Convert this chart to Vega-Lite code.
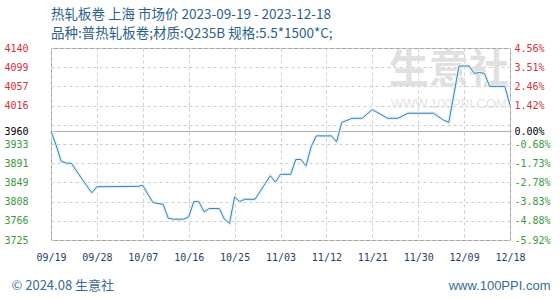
{
  "$schema": "https://vega.github.io/schema/vega-lite/v6.json",
  "width": 459,
  "height": 192,
  "autosize": {"type": "none"},
  "padding": {"left": 51, "top": 48, "right": 50, "bottom": 60},
  "background": "white",
  "title": {
    "text": "热轧板卷 上海 市场价 2023-09-19 - 2023-12-18",
    "subtitle": "品种:普热轧板卷;材质:Q235B 规格:5.5*1500*C;",
    "anchor": "start",
    "frame": "group",
    "font": "Noto Sans CJK SC",
    "fontSize": 13.5,
    "fontWeight": "normal",
    "color": "#2b5f8e",
    "subtitleFont": "Noto Sans CJK SC",
    "subtitleFontSize": 13.5,
    "subtitleColor": "#2b5f8e",
    "subtitlePadding": 5,
    "offset": 3
  },
  "data": {
    "values": [
      {"date": "2023/09/19", "price": 3960},
      {"date": "2023/09/20", "price": 3930},
      {"date": "2023/09/21", "price": 3895},
      {"date": "2023/09/22", "price": 3891},
      {"date": "2023/09/23", "price": 3891},
      {"date": "2023/09/25", "price": 3858},
      {"date": "2023/09/27", "price": 3827},
      {"date": "2023/09/28", "price": 3840},
      {"date": "2023/10/06", "price": 3841},
      {"date": "2023/10/07", "price": 3843},
      {"date": "2023/10/08", "price": 3824},
      {"date": "2023/10/09", "price": 3806},
      {"date": "2023/10/11", "price": 3802},
      {"date": "2023/10/12", "price": 3772},
      {"date": "2023/10/13", "price": 3770},
      {"date": "2023/10/15", "price": 3770},
      {"date": "2023/10/16", "price": 3775},
      {"date": "2023/10/17", "price": 3808},
      {"date": "2023/10/18", "price": 3808},
      {"date": "2023/10/19", "price": 3786},
      {"date": "2023/10/20", "price": 3793},
      {"date": "2023/10/22", "price": 3793},
      {"date": "2023/10/23", "price": 3770},
      {"date": "2023/10/24", "price": 3761},
      {"date": "2023/10/25", "price": 3818},
      {"date": "2023/10/26", "price": 3808},
      {"date": "2023/10/27", "price": 3813},
      {"date": "2023/10/29", "price": 3813},
      {"date": "2023/10/31", "price": 3847},
      {"date": "2023/11/01", "price": 3864},
      {"date": "2023/11/02", "price": 3850},
      {"date": "2023/11/03", "price": 3867},
      {"date": "2023/11/05", "price": 3867},
      {"date": "2023/11/06", "price": 3899},
      {"date": "2023/11/07", "price": 3899},
      {"date": "2023/11/08", "price": 3885},
      {"date": "2023/11/09", "price": 3926},
      {"date": "2023/11/10", "price": 3950},
      {"date": "2023/11/13", "price": 3950},
      {"date": "2023/11/14", "price": 3937},
      {"date": "2023/11/15", "price": 3979},
      {"date": "2023/11/17", "price": 3988},
      {"date": "2023/11/19", "price": 3988},
      {"date": "2023/11/21", "price": 4007},
      {"date": "2023/11/24", "price": 3988},
      {"date": "2023/11/26", "price": 3988},
      {"date": "2023/11/28", "price": 3999},
      {"date": "2023/12/03", "price": 3999},
      {"date": "2023/12/05", "price": 3984},
      {"date": "2023/12/06", "price": 3979},
      {"date": "2023/12/08", "price": 4101},
      {"date": "2023/12/10", "price": 4101},
      {"date": "2023/12/11", "price": 4085},
      {"date": "2023/12/12", "price": 4087},
      {"date": "2023/12/13", "price": 4085},
      {"date": "2023/12/14", "price": 4057},
      {"date": "2023/12/17", "price": 4057},
      {"date": "2023/12/18", "price": 4016}
    ]
  },
  "encoding": {
    "x": {
      "field": "date",
      "type": "temporal",
      "scale": {"domain": [{"year": 2023, "month": 9, "date": 19}, {"year": 2023, "month": 12, "date": 18}]},
      "axis": {
        "values": [
          {"year": 2023, "month": 9, "date": 19},
          {"year": 2023, "month": 9, "date": 28},
          {"year": 2023, "month": 10, "date": 7},
          {"year": 2023, "month": 10, "date": 16},
          {"year": 2023, "month": 10, "date": 25},
          {"year": 2023, "month": 11, "date": 3},
          {"year": 2023, "month": 11, "date": 12},
          {"year": 2023, "month": 11, "date": 21},
          {"year": 2023, "month": 11, "date": 30},
          {"year": 2023, "month": 12, "date": 9},
          {"year": 2023, "month": 12, "date": 18}
        ],
        "format": "%m/%d",
        "labelFont": "DejaVu Sans Mono",
        "labelFontSize": 10,
        "labelColor": "#1f4068",
        "labelPadding": 12,
        "labelFlush": false,
        "labelOverlap": false,
        "ticks": false,
        "tickSize": 0,
        "domain": false,
        "grid": true,
        "gridColor": "#cccccc",
        "gridDash": [3, 3],
        "title": "© 2024.08 生意社",
        "titleFont": "Noto Sans CJK SC",
        "titleFontSize": 13,
        "titleFontWeight": "normal",
        "titleColor": "#3a6a94",
        "titleAnchor": "start",
        "titleAlign": "left",
        "titleBaseline": "middle",
        "titleX": -40,
        "titleY": 45
      }
    }
  },
  "layer": [
    {
      "data": {"values": [{"label": "生意社", "day": "2023/12/06", "level": 4090}]},
      "mark": {"type": "text", "font": "Noto Sans CJK SC", "fontSize": 40, "fontWeight": "bold", "color": "#e0e0e0", "align": "center", "baseline": "middle"},
      "encoding": {
        "x": {"field": "day", "type": "temporal"},
        "y": {"field": "level", "type": "quantitative", "axis": null},
        "text": {"field": "label"}
      }
    },
    {
      "data": {"values": [{"label": "WWW.100PPI.COM", "day": "2023/12/06", "level": 4019}]},
      "mark": {"type": "text", "font": "Liberation Sans", "fontSize": 13, "color": "#e4e4e4", "align": "center", "baseline": "middle"},
      "encoding": {
        "x": {"field": "day", "type": "temporal"},
        "y": {"field": "level", "type": "quantitative", "axis": null},
        "text": {"field": "label"}
      }
    },
    {
      "mark": {"type": "line", "color": "#e2f3fc", "strokeWidth": 3.5, "interpolate": "linear"},
      "encoding": {
        "y": {
          "field": "price",
          "type": "quantitative",
          "scale": {"domain": [3725, 4140], "zero": false, "nice": false},
          "axis": {
            "orient": "right",
            "values": [3725, 3766.5, 3808, 3849.5, 3891, 3932.5, 3960, 3973.5, 4015.5, 4057, 4098.5, 4140],
            "labelExpr": "datum.value==4140?'4.56%':datum.value==4098.5?'3.51%':datum.value==4057?'2.46%':datum.value==4015.5?'1.42%':datum.value==3960?'0.00%':datum.value==3932.5?'-0.68%':datum.value==3891?'-1.73%':datum.value==3849.5?'-2.78%':datum.value==3808?'-3.83%':datum.value==3766.5?'-4.88%':datum.value==3725?'-5.92%':''",
            "labelFont": "DejaVu Sans Mono",
            "labelFontSize": 10,
            "labelColor": {"expr": "datum.value > 3960 ? '#d0303a' : (datum.value < 3960 ? '#3a9a3a' : '#000000')"},
            "labelAlign": "left",
            "labelBaseline": "middle",
            "labelPadding": 4,
            "labelFlush": false,
            "labelOverlap": false,
            "ticks": false,
            "tickSize": 0,
            "domain": false,
            "grid": false,
            "title": "www.100PPI.com",
            "titleAngle": 0,
            "titleFont": "Liberation Sans",
            "titleFontSize": 13,
            "titleFontWeight": "normal",
            "titleColor": "#3a6a94",
            "titleAlign": "right",
            "titleBaseline": "middle",
            "titleX": 40,
            "titleY": 237
          }
        }
      }
    },
    {
      "mark": {"type": "line", "color": "#3f7fab", "strokeWidth": 1, "interpolate": "linear"},
      "encoding": {
        "y": {
          "field": "price",
          "type": "quantitative",
          "scale": {"domain": [3725, 4140], "zero": false, "nice": false},
          "axis": {
            "orient": "left",
            "values": [3725, 3766.5, 3808, 3849.5, 3891, 3932.5, 3960, 3973.5, 4015.5, 4057, 4098.5, 4140],
            "labelExpr": "datum.value==3973.5?'':datum.value==3766.5?'3766':datum.value==3849.5?'3849':datum.value==3932.5?'3933':datum.value==4015.5?'4016':datum.value==4098.5?'4099':format(datum.value,'d')",
            "labelFont": "DejaVu Sans Mono",
            "labelFontSize": 10,
            "labelColor": {"expr": "datum.value > 3960 ? '#d0303a' : (datum.value < 3960 ? '#3a9a3a' : '#000000')"},
            "labelAlign": "right",
            "labelBaseline": "middle",
            "labelPadding": 23,
            "labelFlush": false,
            "labelOverlap": false,
            "ticks": false,
            "tickSize": 0,
            "domain": false,
            "grid": true,
            "gridColor": {"expr": "datum.value == 3960 ? '#999999' : '#cccccc'"},
            "gridDash": {"condition": {"test": "datum.value == 3960", "value": [1, 0]}, "value": [3, 3]},
            "gridWidth": 1,
            "title": null
          }
        }
      }
    }
  ],
  "resolve": {"axis": {"y": "independent"}},
  "config": {
    "view": {"stroke": "#a0a0a0", "strokeWidth": 1}
  }
}
